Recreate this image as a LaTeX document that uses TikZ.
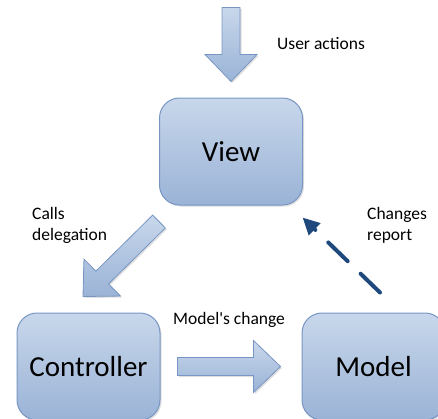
\documentclass[tikz,border=0pt]{standalone}
\usepackage{fontspec}
\setmainfont{Carlito}
\usepackage{tikz}
\usetikzlibrary{calc, shadows, arrows.meta}

\definecolor{boxtop}{HTML}{C8D7EB}
\definecolor{boxbot}{HTML}{9AB3D6}
\definecolor{boxline}{HTML}{7896C3}
\definecolor{repblue}{HTML}{1F497D}

\tikzset{
	mvcbox/.style={draw=boxline, line width=1pt, rounded corners=20pt, top color=boxtop, bottom color=boxbot,
		minimum width=143pt, minimum height=107pt, font=\fontsize{29}{34}\selectfont,
		drop shadow={opacity=0.25, shadow xshift=1.5pt, shadow yshift=-1.5pt}},
	fatarrow/.style={draw=boxline, line width=0.8pt, top color=boxtop, bottom color=boxbot,
		drop shadow={opacity=0.25, shadow xshift=1.5pt, shadow yshift=-1.5pt}},
	repline/.style={draw=repblue, line width=4pt, dash pattern=on 27pt off 18pt, line cap=round},
	lbl/.style={font=\fontsize{17.5}{21}\selectfont, align=left, inner sep=0pt},
}

% block arrow from #1 (tail) to #2 (tip)
\newcommand{\blockarrow}[2]{%
	\coordinate (ah) at ($(#2)!27pt!(#1)$);
	\path[fatarrow] ($(#1)!9pt!90:(#2)$) -- ($(ah)!9pt!-90:(#1)$) -- ($(ah)!26pt!-90:(#1)$) -- (#2)
		-- ($(ah)!26pt!90:(#1)$) -- ($(ah)!9pt!90:(#1)$) -- ($(#1)!9pt!-90:(#2)$) -- cycle;
}

\begin{document}
\begin{tikzpicture}[x=1pt, y=-1pt, >=stealth]
		% MVC: view, controller, model
		\useasboundingbox (0,0) rectangle (438,418);
		\clip (0,0) rectangle (438,418);
		\node[mvcbox] (view) at (231,151.5) {View};
		\node[mvcbox] (controller) at (88.5,366.5) {Controller};
		\node[mvcbox] (model) at (373.5,366.5) {Model};

		\coordinate (act-tail) at ($(view.north)+(0,-90)$);
		\coordinate (act-tip) at ($(view.north)+(0,-16)$);
		\coordinate (del-tail) at ($(view.south west)+(0,16)$);
		\coordinate (del-tip) at ($(controller.north)+(-5.5,-16)$);
		\coordinate (chg-tail) at ($(controller.east)+(17,0)$);
		\coordinate (chg-tip) at ($(model.west)+(-21,0)$);
		\coordinate (rep-tail) at ($(model.north)+(6.5,-20)$);
		\coordinate (rep-tip) at ($(view.south east)+(-0.5,12)$);

		\blockarrow{act-tail}{act-tip}
		\blockarrow{del-tail}{del-tip}
		\blockarrow{chg-tail}{chg-tip}
		\draw[repline, -{Triangle[length=17pt,width=16pt]}] (rep-tail) -- (rep-tip);

		\node[lbl, anchor=base west] (useract) at (277,49.5) {User actions};
		\node[lbl, anchor=base west] (modelchg) at (173,324) {Model\textquotesingle s change};
		\node[lbl, anchor=base west] (calls) at (32,240) {Calls\\delegation};
		\node[lbl, anchor=base west] (changes) at (367,240) {Changes\\report};
	\end{tikzpicture}
\end{document}
